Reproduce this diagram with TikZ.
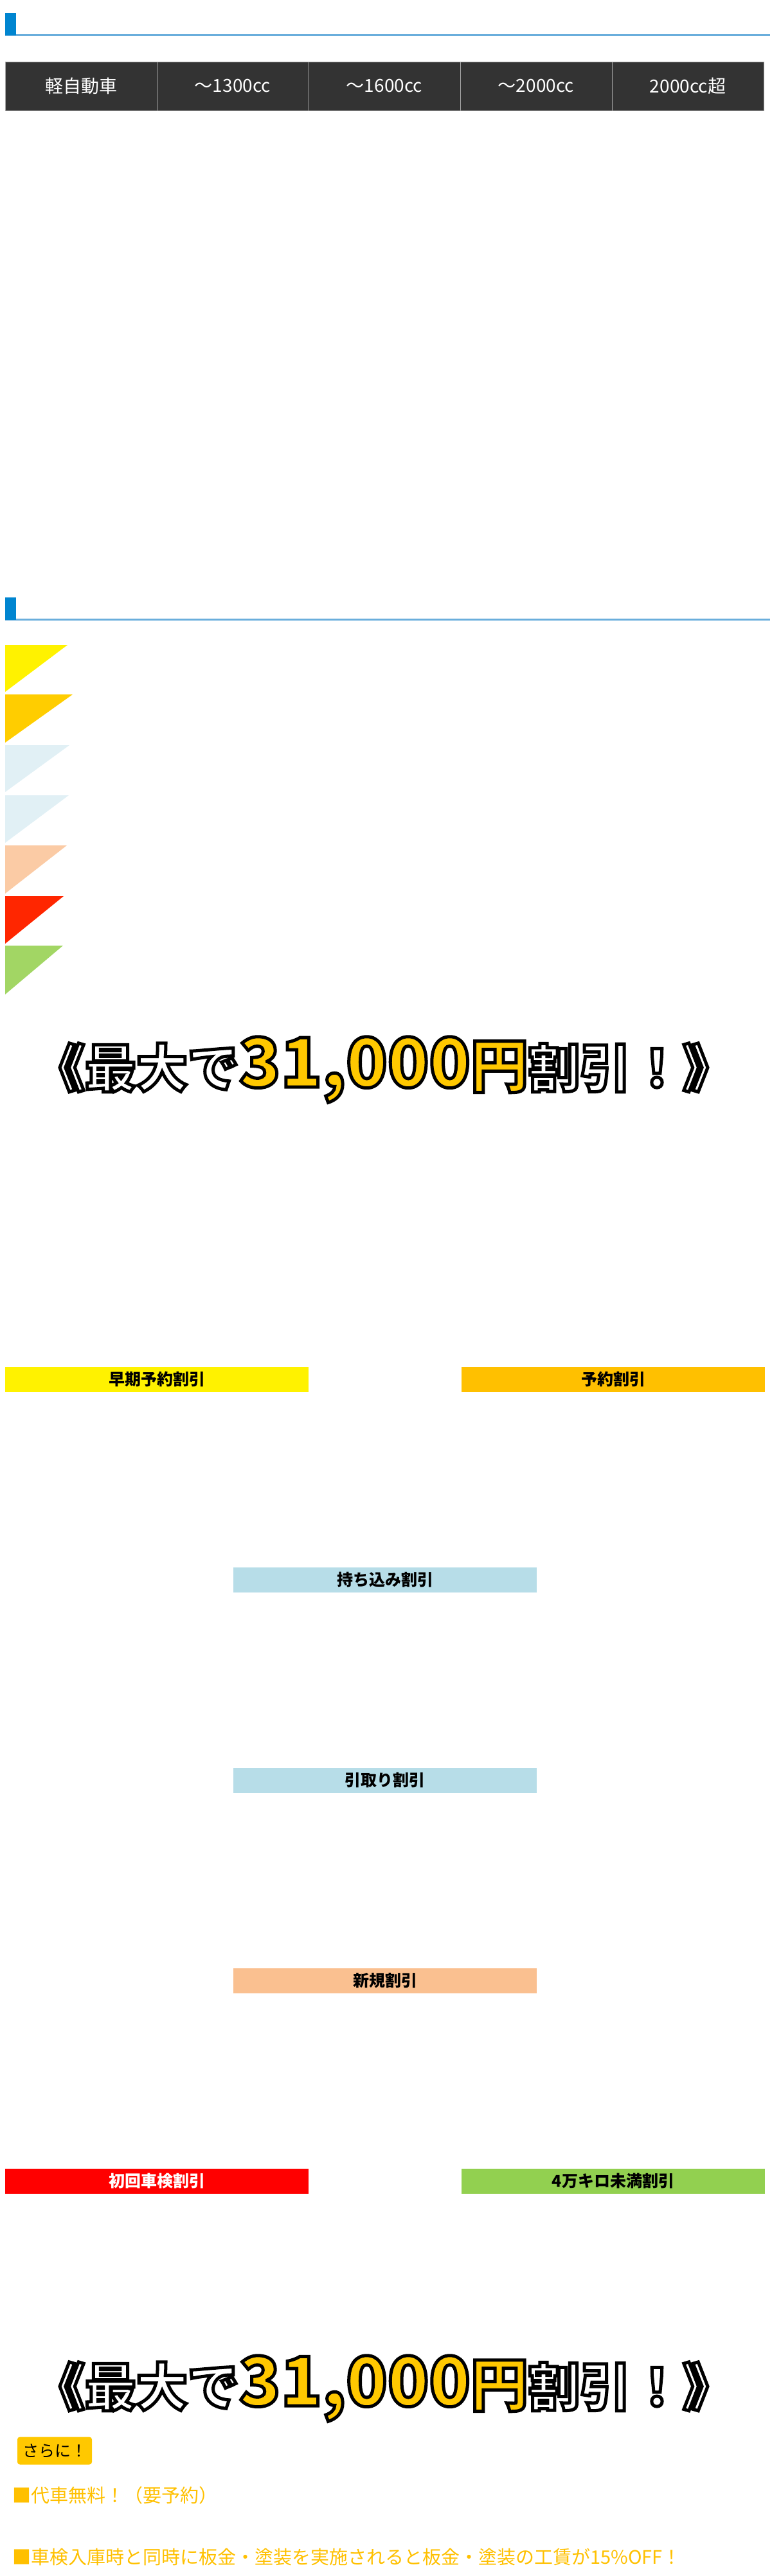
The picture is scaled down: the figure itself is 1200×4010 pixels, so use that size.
\documentclass[tikz,border=0pt]{standalone}
\usepackage{fontspec}
\setmainfont{Noto Sans CJK JP}
\usetikzlibrary{positioning}
\definecolor{hblue}{HTML}{0085D0}
\definecolor{hline}{HTML}{6AAEDC}
\definecolor{tdark}{HTML}{333333}
\definecolor{gold}{HTML}{FFC800}
\definecolor{orng}{HTML}{FFC000}
\definecolor{lblue}{HTML}{B7DDE8}
\definecolor{peach}{HTML}{FAC090}
\definecolor{lgreen}{HTML}{92D050}
\newcommand{\outl}[1]{\special{pdf:code 2 Tr 5 w 0 0 0 RG}#1\special{pdf:code 0 Tr 0.4 w}}
\newcommand{\bigtxt}{\bfseries\outl{\fontsize{80}{90}\selectfont\color{white}\special{pdf:code 0 0 0 RG}《最大で}\outl{\fontsize{106}{120}\selectfont\color{gold}\special{pdf:code 0 0 0 RG}31,000\fontsize{90}{100}\selectfont 円}\outl{\fontsize{80}{90}\selectfont\color{white}\special{pdf:code 0 0 0 RG}割引！》}}
\begin{document}
\begin{tikzpicture}[x=1pt,y=-1pt,
  cell/.style={fill=tdark,draw=gray!70,line width=1pt,minimum width=236pt,minimum height=76pt,text=white,font=\fontsize{28}{32}\selectfont,inner sep=0pt},
  bar/.style={minimum width=472pt,minimum height=39pt,inner sep=0pt,font=\bfseries\fontsize{25}{28}\selectfont},
  orangetxt/.style={anchor=west,text=orng,font=\fontsize{29}{34}\selectfont,inner sep=0pt}]
\useasboundingbox (0,0) rectangle (1200,4010);
% header 1
\fill[hline] (8,53) rectangle (1198,55.5);
\fill[hblue] (8,20) rectangle (25,55);
% table
\foreach \t [count=\i] in {軽自動車,～1300cc,～1600cc,～2000cc,2000cc超}
  \node[cell] (c\i) at ({8+118+236*(\i-1)},134) {\t};
% header 2
\fill[hline] (8,963) rectangle (1198,965.5);
\fill[hblue] (8,930) rectangle (25,965);
% triangles
\fill[yellow] (8,1004) -- (105,1004) -- (8,1077) -- cycle;
\fill[color=orng!80!yellow] (8,1081) -- (113,1081) -- (8,1156) -- cycle;
\fill[color={rgb,255:red,225;green,240;blue,245}] (8,1160) -- (108,1160) -- (8,1233) -- cycle;
\fill[color={rgb,255:red,225;green,240;blue,245}] (8,1238) -- (107,1238) -- (8,1312) -- cycle;
\fill[color={rgb,255:red,251;green,203;blue,165}] (8,1316) -- (104,1316) -- (8,1391) -- cycle;
\fill[color={rgb,255:red,255;green,38;blue,0}] (8,1395) -- (99,1395) -- (8,1469) -- cycle;
\fill[color={rgb,255:red,162;green,214;blue,100}] (8,1472) -- (98,1472) -- (8,1548) -- cycle;
% big text 1
\node (big1) at (597,1665) {\bigtxt};
% bars
\node[bar,fill=yellow] (b1) at (244,2147) {早期予約割引};
\node[bar,fill=orng] (b2) at (954,2147) {予約割引};
\node[bar,fill=lblue] (b3) at (599,2459) {持ち込み割引};
\node[bar,fill=lblue] (b4) at (599,2771) {引取り割引};
\node[bar,fill=peach] (b5) at (599,3083) {新規割引};
\node[bar,fill=red,text=white] (b6) at (244,3395) {初回車検割引};
\node[bar,fill=lgreen] (b7) at (954,3395) {4万キロ未満割引};
% big text 2
\node (big2) at (597,3718) {\bigtxt};
% sarani
\node[fill=gold,rounded corners=4pt,minimum width=116pt,minimum height=43pt,inner sep=0pt,font=\fontsize{25}{30}\selectfont] (sar) at (85,3815) {さらに！};
\node[orangetxt] (l1) at (19,3884) {■代車無料！（要予約）};
\node[orangetxt] (l2) at (19,3980) {■車検入庫時と同時に板金・塗装を実施されると板金・塗装の工賃が15\%OFF！};
\end{tikzpicture}
\end{document}
